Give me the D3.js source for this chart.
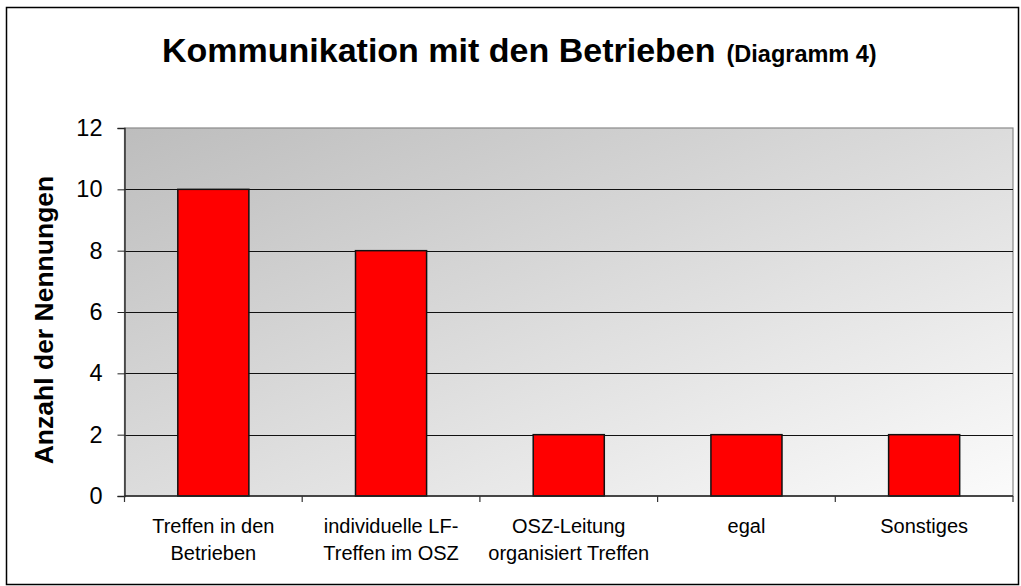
<!DOCTYPE html>
<html>
<head>
<meta charset="utf-8">
<script src="https://cdn.jsdelivr.net/npm/d3@7"></script>
<style>
body { margin: 0; background: #fff; }
text { font-family: "Liberation Sans", Arial, sans-serif; fill: #000; }
</style>
</head>
<body>
<div id="chart"></div>
<script>

// data
var categories = [
  ["Treffen in den", "Betrieben"],
  ["individuelle LF-", "Treffen im OSZ"],
  ["OSZ-Leitung", "organisiert Treffen"],
  ["egal"],
  ["Sonstiges"]
];
var values = [10, 8, 2, 2, 2];
var yTicks = [0, 2, 4, 6, 8, 10, 12];

var W = 1021, H = 586;

var plot = {
  left: 124.5,
  right: 1013,
  top: 128,
  bottom: 496
}

var svg = d3.select("#chart").append("svg")
  .attr("width", W)
  .attr("height", H)

// outer frame
svg.append("rect")
  .attr("x", 6.5).attr("y", 7.5)
  .attr("width", 1012).attr("height", 577)
  .attr("fill", "#fff")
  .attr("stroke", "#000")
  .attr("stroke-width", 1.5)

// background gradient
var grad = svg.append("defs").append("linearGradient")
  .attr("id", "bg")
  .attr("x1", "0").attr("y1", "0")
  .attr("x2", "1").attr("y2", "1")
grad.append("stop").attr("offset", "0%").attr("stop-color", "#bdbdbd")
grad.append("stop").attr("offset", "100%").attr("stop-color", "#fbfbfb")

var idx = d3.range(categories.length)

var x = d3.scaleBand()
  .domain(idx)
  .range([plot.left, plot.right])
  .paddingInner(0.6)
  .paddingOuter(0.3)

var y = d3.scaleLinear()
  .domain([0, 12])
  .range([plot.bottom, plot.top])

svg.append("rect")
  .attr("x", plot.left)
  .attr("y", plot.top)
  .attr("width", plot.right - plot.left)
  .attr("height", plot.bottom - plot.top)
  .attr("fill", "url(#bg)")
  .attr("stroke", "#8a8a8a")
  .attr("stroke-width", 1.2)

// gridlines
svg.append("g")
  .selectAll("line")
  .data(yTicks.slice(1, -1))
  .enter()
  .append("line")
  .attr("x1", plot.left)
  .attr("x2", plot.right)
  .attr("y1", function(d){ return Math.round(y(d)) + 0.5 })
  .attr("y2", function(d){ return Math.round(y(d)) + 0.5 })
  .attr("stroke", "#111")
  .attr("stroke-width", 1)

// bars
svg.append("g")
  .selectAll("rect")
  .data(values)
  .enter()
  .append("rect")
  .attr("x", function(d, i){ return x(i) })
  .attr("y", function(d){ return y(d) })
  .attr("width", x.bandwidth())
  .attr("height", function(d){ return y(0) - y(d) })
  .attr("fill", "#ff0000")
  .attr("stroke", "#111")
  .attr("stroke-width", 1.5)

// y axis
var yAxis = d3.axisLeft(y)
  .tickValues(yTicks)
  .tickSize(7)
  .tickPadding(15)
  .tickFormat(d3.format("d"))

var gy = svg.append("g")
  .attr("transform", "translate(" + plot.left + ",0)")
  .call(yAxis)
gy.select(".domain").attr("stroke", "#333").attr("stroke-width", 1.5)
gy.selectAll(".tick line").attr("stroke", "#222")
gy.selectAll(".tick text")
  .attr("font-size", 23.5)
  .attr("font-family", "Liberation Sans, Arial, sans-serif")
  .attr("fill", "#000")

// x axis: ticks at category boundaries
var step = x.step()
var bounds = d3.range(categories.length + 1).map(function(i){ return plot.left + i * step })

svg.append("line")
  .attr("x1", plot.left).attr("x2", plot.right)
  .attr("y1", plot.bottom).attr("y2", plot.bottom)
  .attr("stroke", "#222")
  .attr("stroke-width", 1.5)

svg.append("g")
  .selectAll("line")
  .data(bounds)
  .enter()
  .append("line")
  .attr("x1", function(d){ return d })
  .attr("x2", function(d){ return d })
  .attr("y1", plot.bottom)
  .attr("y2", plot.bottom + 6)
  .attr("stroke", "#333")
  .attr("stroke-width", 1.2)

var labels = svg.append("g")
  .selectAll("text")
  .data(categories)
  .enter()
  .append("text")
  .attr("text-anchor", "middle")
  .attr("font-size", 20)
  .attr("x", function(d, i){ return x(i) + x.bandwidth() / 2 })
  .attr("y", 533)

labels.selectAll("tspan")
  .data(function(d){ return d })
  .enter()
  .append("tspan")
  .attr("x", function(){ return this.parentNode.getAttribute("x") })
  .attr("dy", function(d, j){ return j == 0 ? 0 : 27 })
  .text(function(d){ return d })

// axis title
svg.append("text")
  .attr("transform", "translate(53,320) rotate(-90)")
  .attr("text-anchor", "middle")
  .attr("font-size", 26.5)
  .attr("font-weight", "bold")
  .text("Anzahl der Nennungen")

// chart title
var title = svg.append("text")
  .attr("x", 162)
  .attr("y", 62)
  .attr("font-weight", "bold")
title.append("tspan")
  .attr("font-size", 34)
  .text("Kommunikation mit den Betrieben")
title.append("tspan")
  .attr("font-size", 23.5)
  .attr("dx", 11)
  .text("(Diagramm 4)")

</script>
</body>
</html>
